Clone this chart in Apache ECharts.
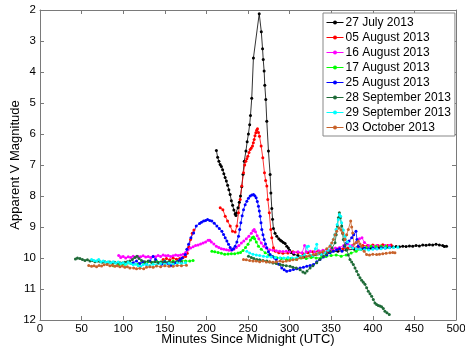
<!DOCTYPE html>
<html><head><meta charset="utf-8">
<script src="https://cdn.jsdelivr.net/npm/echarts@6/dist/echarts.min.js"></script>
<style>html,body{margin:0;padding:0;background:#fff}#c{width:465px;height:351px}</style>
</head><body><div id="c"></div>
<script>
var seriesNames = ['27 July 2013','05 August 2013','16 August 2013','17 August 2013','25 August 2013','28 September 2013','29 September 2013','03 October 2013'];
var xTicks = [0,50,100,150,200,250,300,350,400,450,500];
var yTicks = [2,3,4,5,6,7,8,9,10,11,12];

var jul27 = [[212,6.53],[213.5,6.75],[215,6.88],[216.5,6.98],[218,7.05],[219.5,7.15],[221,7.28],[222.5,7.4],[224,7.52],[225.5,7.65],[227,7.8],[228.5,7.95],[230,8.15],[231.5,8.3],[233,8.45],[234.5,8.58],[235.5,8.63],[236.5,8.55],[238,8.38],[239.5,8.2],[241,8.0],[242.5,7.7],[244,7.3],[245.5,6.88],[247.5,6.55],[249,6.25],[250.5,6.0],[252,5.7],[253,5.4],[254.5,4.85],[256.5,3.55],[263.5,2.12],[266,2.7],[267.5,3.25],[268.3,3.6],[269.4,3.97],[270.2,4.43],[271.4,4.89],[272.6,5.59],[274.6,6.55],[276.6,7.31],[277.5,7.9],[278.6,8.4],[279.5,8.75],[280.6,9.05],[282.5,9.2],[284.6,9.3],[287,9.38],[289,9.43],[290.6,9.46],[292.5,9.5],[294.6,9.53],[296.6,9.62],[298.5,9.68],[300,9.75],[302,9.82],[305,9.88],[310,9.92],[318,9.95],[328,9.93],[338,9.88],[348,9.82],[358,9.78],[368,9.74],[378,9.72],[388,9.7],[398,9.68],[408,9.67],[416,9.66],[420,9.65],[424,9.64],[428,9.63],[432,9.64],[436,9.62],[440,9.63],[444,9.61],[448,9.62],[452,9.6],[456,9.61],[460,9.58],[464,9.59],[468,9.57],[472,9.58],[476,9.56],[480,9.58],[484,9.6],[486,9.63],[488.6,9.62]];

var aug05 = [[148,10.05],[152,10.02],[156,10.06],[160,10.0],[164,10.04],[168,10.02],[172,9.98],[175,9.95],[177,9.85],[179,9.65],[181,9.4],[183,9.2],[185,9.1],['-','-'],[216.6,8.38],[219.8,8.44],[222.6,8.65],[225.4,8.81],[228.6,8.97],[231.4,9.14],[234.6,9.16],[236.6,8.97],[238.6,8.54],[240.6,8.11],[242.6,7.68],[244.6,7.25],[246,7.0],[247.4,6.88],[248.6,6.8],[249.8,6.72],[251.2,6.6],[252.6,6.5],[254,6.45],[255.4,6.39],[256.4,6.28],[257.4,6.18],[258.4,6.06],[259.4,5.96],[260.4,5.88],[261.4,5.83],[262.6,5.95],[263.8,6.07],[265.8,6.39],[267.8,6.77],[269.8,7.25],[271.2,7.5],[272.6,7.68],[273.8,8.11],[275.6,8.54],[277.4,9.08],[278.6,9.35],[280.6,9.67],[283,9.78],[287,9.83],[292,9.85],[298,9.84],[304,9.8],[310,9.82],[316,9.86],[322,9.83],[328,9.8],[334,9.78],[340,9.82],[346,9.78],[352,9.76],[358,9.72],[364,9.7],[370,9.68],[376,9.66],[382,9.64],[388,9.6],[394,9.6],[400,9.58],[406,9.6],[412,9.57],[418,9.6],[422,9.58]];

var aug16 = [[94.6,9.92],[97,9.98],[100,9.95],[103,10.0],[106,9.96],[109,9.98],[112,9.94],[115,9.97],[118,9.95],[121,9.96],[124,9.93],[127,9.97],[130,9.95],[133,9.98],[136,9.94],[139,9.96],[142,9.92],[145,9.95],[148,9.9],[151,9.93],[154,9.92],[157,9.95],[160,9.93],[163,9.9],[166,9.92],[169,9.9],[172,9.88],[175,9.82],[178,9.73],[181,9.68],[184,9.64],[187,9.6],[190,9.58],[193,9.55],[196,9.52],[199,9.48],[202,9.43],[204,9.43],[206,9.48],[209,9.55],[212,9.62],[215,9.66],[218,9.7],[221,9.72],[224,9.73],[227,9.75],[230,9.75],[233,9.72],[236,9.66],[239,9.6],[242,9.52],[245,9.45],[248,9.38],[251,9.3],[254,9.2],[256,9.12],[257.4,9.08],[259,9.15],[261,9.28],[263,9.38],[266,9.52],[269,9.62],[272,9.68],[276,9.73],[280,9.75],[284,9.77],[288,9.78],[292,9.79],[296,9.78],[300,9.8],[305,9.82],[310,9.8],[315,9.83],[318,9.6],[320,9.8],[325,9.78],[330,9.8],[335,9.77],[340,9.75],[345,9.73],[350,9.72],[355,9.68],[360,9.66],[365,9.6],[370,9.55],[375,9.6],[380,9.5],[384,9.38],[387,9.35],[390,9.5],[395,9.6],[400,9.62],[405,9.6],[410,9.62],[415,9.6],[420,9.6]];

var aug17 = [[88,10.25],[95,10.22],[102,10.2],[110,10.18],[118,10.2],[125,10.15],[130,10.12],[135,10.15],[140,10.1],[145,10.13],[150,10.1],[155,10.14],[160,10.1],[165,10.12],[170,10.08],[175,10.1],[180,10.1],[184,10.08],['-','-'],[206.6,9.78],[210,9.8],[214,9.82],[218,9.85],[222,9.88],[226,9.87],[230,9.86],[234,9.86],[238,9.84],[241,9.82],[244,9.76],[247,9.66],[250,9.56],[253,9.42],[255,9.35],[256.6,9.32],[258,9.38],[260,9.48],[262.6,9.62],[266,9.72],[270.6,9.83],[275,9.9],[280,9.95],[284.6,9.99],[290,10.02],[296.6,10.05],[302,10.02],[308,10.04],[314,10.0],[320,10.02],[326,9.98],[332,10.0],[338,9.98],[344,9.95],[350,9.92],[356,9.9],[362,9.94],[368,9.9],[374,9.84],[380,9.78],[386,9.72],[392,9.66],[398,9.62],[404,9.63],[410,9.62],[416,9.62]];

var aug25 = [[112,10.15],[116,10.1],[120,10.18],[124,10.12],[128,10.2],[132,10.1],[136,9.95],[139,10.05],[142,10.15],[146,10.2],[150,10.12],[154,10.18],[157,10.25],[160,10.2],[163,10.15],[166,10.1],[168.6,10.05],[171,10.0],[174.6,9.89],[176.5,9.72],[178.6,9.56],[181.4,9.35],[184.6,9.19],[187.8,8.97],[191.8,8.89],[194,8.85],[196.6,8.81],[199,8.79],[201.4,8.76],[204,8.79],[206.6,8.81],[209.5,8.88],[212.6,8.97],[215.5,9.05],[218.6,9.14],[220.6,9.24],[222.6,9.35],[224.6,9.45],[226.6,9.56],[228.6,9.66],[230.6,9.73],[232.6,9.7],[234.6,9.62],[236.6,9.48],[238.6,9.3],[240,9.08],[241.4,8.86],[243,8.64],[244.6,8.44],[246.6,8.28],[248.6,8.17],[250.6,8.07],[252.6,8.0],[254.6,7.97],[256.6,7.95],[258.2,7.99],[259.8,8.06],[261.2,8.18],[262.6,8.33],[263.6,8.48],[264.6,8.65],[265.6,8.86],[266.6,9.08],[268,9.25],[269.4,9.4],[271,9.55],[272.6,9.67],[274.6,9.8],[276.6,9.89],[279,9.95],[282,10.0],[284,10.05],[287,10.2],[290.6,10.32],[293.5,10.38],[296.6,10.43],[300.5,10.4],[304.6,10.37],[308.6,10.35],[312.6,10.32],[316.6,10.3],[320.6,10.27],[324.6,10.24],[328.6,10.21],[332.6,10.12],[336.6,10.05],[340.6,9.97],[344.6,9.9],[348.6,9.83],[352.6,9.78],[356.6,9.73],[360,9.7],[363,9.78],[366,9.62],[368.6,9.51],[371.5,9.45],[374.6,9.35],[377,9.25],[379.8,9.14],[381,9.4],[382.6,9.62],[386,9.7],[390,9.68],[395,9.7],[400,9.68],[405,9.7],[410,9.67],[415,9.68],[420,9.66]];

var sep28 = [[42.6,10.03],[45,10.0],[48,10.02],[51,10.05],[54,10.08],[57,10.06],[60,10.1],[63,10.08],[66,10.12],[69,10.1],[72,10.12],[75,10.14],[78,10.12],[81,10.15],[84,10.13],[87,10.16],[90,10.14],[93,10.17],[96,10.15],[99,10.16],[102,10.14],[105,10.12],[108,10.1],[111,10.05],[114,9.98],[116.6,9.94],[119,10.02],[122,10.08],[126,10.12],[130,10.1],[134,10.14],[138,10.12],[142,10.15],[146,10.13],[150,10.15],[155,10.12],[160,10.14],[165,10.12],[170,10.13],['-','-'],[250.6,9.94],[254,9.98],[257,10.02],[260.6,10.05],[264,10.06],[268,10.08],[272.6,10.1],[276,10.13],[280,10.16],[284,10.18],[288.6,10.21],[292,10.23],[296,10.25],[300.6,10.27],[304,10.3],[308,10.32],[312.6,10.38],[316,10.45],[318.6,10.48],[321,10.42],[324.6,10.32],[328,10.25],[332.6,10.15],[336,10.05],[340.6,9.94],[344,9.86],[348.6,9.78],[351,9.68],[354.6,9.51],[356,9.25],[357.4,8.97],[358.6,8.7],[359.8,8.54],[361,8.7],[362.6,8.97],[363.6,9.2],[364.6,9.4],[366.6,9.6],[368.6,9.73],[370.6,9.9],[372.6,10.05],[374.6,10.13],[376.6,10.21],[378.6,10.32],[380.6,10.43],[382.6,10.54],[384.6,10.64],[386.6,10.72],[388.6,10.78],[390.6,10.85],[392.6,10.96],[394.6,11.07],[396.6,11.15],[398.6,11.23],[400.6,11.34],[402.6,11.45],[404.6,11.5],[406.6,11.53],[408.6,11.55],[410.6,11.57],[412.6,11.63],[414.6,11.72],[417,11.77],[419.8,11.82]];

var sep29 = [[62,10.05],[65,10.08],[68,10.1],[70.6,10.05],[73,10.12],[76,10.1],[79,10.14],[82,10.12],[85,10.15],[88,10.12],[91,10.16],[94,10.13],[97,10.18],[100,10.15],[103,10.2],[106,10.14],[109,10.18],[112,10.22],[115,10.2],[118,10.25],[121,10.27],[124,10.22],[128,10.2],[132,10.24],[136,10.2],[140,10.22],[145,10.18],[150,10.2],[155,10.17],[160,10.2],[165,10.16],[170,10.18],[175,10.15],['-','-'],[248.6,9.78],[252,9.84],[256,9.88],[260,9.9],[264,9.92],[268.6,9.94],[273,9.96],[278,9.97],[283,9.98],[288.6,9.99],[293,10.0],[298,9.98],[303,10.0],[308.6,9.99],[313,9.95],[318,9.9],[320.6,9.64],[322.6,9.62],[324.6,9.9],[328,9.92],[331,9.7],[332.6,9.56],[334.6,9.85],[338,9.88],[342,9.82],[346,9.75],[349,9.6],[352.6,9.4],[354.2,9.25],[355.8,9.08],[357.2,8.92],[358.6,8.76],[359.8,8.6],[361.4,8.65],[362.6,8.86],[364.6,9.1],[366.6,9.3],[369.6,9.48],[372.6,9.62],[376,9.68],[380,9.7],[385,9.72],[390,9.73],[395,9.74],[400,9.72],[405,9.7],[410,9.7],[415,9.68],[420,9.67],[425,9.66],[430,9.65]];

var oct03 = [[58.6,10.24],[62,10.27],[65,10.25],[68,10.28],[71,10.24],[74,10.26],[77,10.22],[80.6,10.21],[84,10.25],[87,10.23],[90,10.27],[93,10.25],[96,10.28],[99,10.26],[102,10.3],[105,10.28],[108,10.32],[112.6,10.32],[116,10.35],[120,10.33],[124.6,10.35],[128,10.3],[132,10.28],[136,10.3],[140,10.26],[145,10.28],[150,10.25],[155,10.27],[160,10.27],[165,10.24],[170,10.25],[176,10.23],['-','-'],[244.6,10.05],[248,10.06],[252,10.08],[256,10.1],[260,10.1],[264,10.12],[268,10.1],[272,10.13],[276,10.12],[280,10.14],[284,10.12],[288.6,10.1],[292,10.12],[296,10.1],[300,10.08],[304,10.06],[308.6,10.05],[312.6,9.99],[316,9.98],[320,9.95],[324,9.93],[328.6,9.89],[332,9.86],[336,9.83],[340.6,9.78],[344.6,9.7],[348.6,9.62],[350.6,9.52],[352.6,9.4],[354.6,9.25],[356.6,9.14],[359.8,9.03],[361.8,9.1],[363.8,9.19],[366.6,9.4],[368.6,9.25],[370.6,9.08],[373.4,8.81],[374.6,9.0],[375.8,9.19],[377.4,9.56],[380,9.5],[382.6,9.46],[384.6,9.55],[386.6,9.62],[389.6,9.78],[392.6,9.89],[396,9.9],[400,9.88],[404.6,9.89],[408,9.88],[412,9.86],[416,9.85],[420.6,9.83],[424,9.82],[426.6,9.83]];

var colors = ['#000000','#ff0000','#ff00ff','#00ff00','#0000ff','#1f6b38','#00ffff','#c8622a'];
var allData = [jul27,aug05,aug16,aug17,aug25,sep28,sep29,oct03];

var FONT = 'Liberation Sans, Arial, sans-serif';
var AX = '#7a7a7a';
function axisBase(extra){
  return Object.assign({
    type:'value',
    axisLine:{show:true,onZero:false,lineStyle:{color:AX,width:1}},
    axisTick:{show:true,inside:true,length:4,lineStyle:{color:AX}},
    splitLine:{show:false},
    axisLabel:{color:'#000',fontSize:11,fontFamily:FONT}
  }, extra);
}

var chart = echarts.init(document.getElementById('c'));
chart.setOption({
  animation:false,
  backgroundColor:'#fff',
  grid:{left:40,right:9,top:10,bottom:31,containLabel:false,outerBoundsMode:'none'},
  legend:{
    orient:'vertical', left:323, top:13,
    data:seriesNames,
    backgroundColor:'#fff', borderColor:'#888', borderWidth:1,
    padding:[3,4,2,3],
    itemWidth:17, itemHeight:5, itemGap:2,
    lineStyle:{width:1},
    textStyle:{color:'#000',fontSize:12,fontFamily:FONT,lineHeight:13,padding:[0,0,0,-3]}
  },
  xAxis:[
    axisBase({min:0,max:500,interval:50,position:'bottom',
      name:'Minutes Since Midnight (UTC)',nameLocation:'middle',nameGap:13,nameMoveOverlap:false,
      nameTextStyle:{color:'#000',fontSize:13,fontFamily:FONT},
      axisLabel:{color:'#000',fontSize:11.5,fontFamily:FONT,margin:3}}),
    axisBase({min:0,max:500,interval:50,position:'top',axisLabel:{show:false}})
  ],
  yAxis:[
    axisBase({min:2,max:12,interval:1,inverse:true,position:'left',
      name:'Apparent V Magnitude',nameLocation:'middle',nameGap:18,nameRotate:90,nameMoveOverlap:false,
      nameTextStyle:{color:'#000',fontSize:13,fontFamily:FONT},
      axisLabel:{color:'#000',fontSize:11.5,fontFamily:FONT,margin:4}}),
    axisBase({min:2,max:12,interval:1,inverse:true,position:'right',axisLabel:{show:false}})
  ],
  series: seriesNames.map(function(n,i){
    return {
      name:n, type:'line', data:allData[i], xAxisIndex:0, yAxisIndex:0,
      symbol:'circle', symbolSize:3, showSymbol:true, connectNulls:false,
      itemStyle:{color:colors[i]},
      lineStyle:{color:colors[i],width:0.8},
      emphasis:{disabled:true}
    };
  })
});
</script></body></html>
